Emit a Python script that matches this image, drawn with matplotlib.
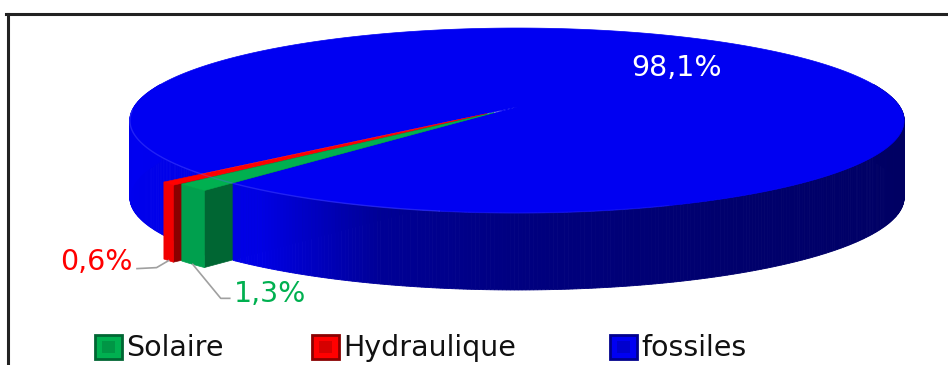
import numpy as np
import matplotlib.pyplot as plt
from matplotlib.patches import Polygon, Rectangle
from matplotlib.lines import Line2D

# energy mix shares (%)
labels = ['Solaire', 'Hydraulique', 'fossiles']
shares = [1.3, 0.6, 98.1]
pct_text = ['1,3%', '0,6%', '98,1%']

top_colors = ['#00B050', '#FF0000', '#0000F2']
wall_colors = ['#00A04E', '#F20000', None]
cut_colors = ['#006633', '#8A0000', '#00008C']
explode = [0.086, 0.106, 0.0]

# disc projection onto the page, in pixels (y grows downward)
CX, CY = 517.0, 107.0
SX, SY = 383.0, 90.5
K = 0.146
DEPTH = 77.0
START = 131.3


def proj(r, th, off=(0.0, 0.0), z=0.0):
    t = np.radians(th)
    X = r * np.cos(t) + off[0]
    Y = r * np.sin(t) + off[1]
    w = 1.0 - K * Y
    return CX + SX * X / w, CY + SY * Y / w + z


def arc(r, a, b, off, z=0.0, n=None):
    if n is None:
        n = max(int(abs(b - a) * 2), 4)
    ths = np.linspace(a, b, n)
    xs, ys = proj(r, ths, off, z)
    return np.column_stack([xs, ys])


def wall_shade(th):
    # brighter on the left-hand side of the cylinder
    t = th % 360
    if t > 270:
        t -= 360
    g = np.interp(t, [-20, 0, 60, 90, 108, 118, 126, 180, 200],
                  [95, 95, 108, 128, 150, 195, 228, 240, 240])
    return (0.0, 0.0, g / 255)


def draw_wall(ax, lo, hi, off):
    ths = np.linspace(lo, hi, int((hi - lo) * 2) + 2)
    for t0, t1 in zip(ths[:-1], ths[1:]):
        p0 = proj(1, t0, off)
        p1 = proj(1, t1, off)
        quad = [p0, p1, (p1[0], p1[1] + DEPTH), (p0[0], p0[1] + DEPTH)]
        col = wall_shade((t0 + t1) / 2)
        ax.add_patch(Polygon(quad, closed=True, fc=col, ec=col, lw=0.6))


fig = plt.figure(figsize=(9.48, 3.65), dpi=100)
ax = fig.add_axes([0, 0, 1, 1])
ax.set_xlim(0, 948)
ax.set_ylim(365, 0)
ax.axis('off')

# slice angles, clockwise from 3 o'clock on screen
bounds = START + np.concatenate([[0], np.cumsum(shares)]) * 3.6
slices = []
for i in range(len(shares)):
    a, b = bounds[i], bounds[i + 1]
    mid = np.radians((a + b) / 2)
    off = (explode[i] * np.cos(mid), explode[i] * np.sin(mid))
    slices.append((a, b, off))

ba, bb, boff = slices[2]

# back-left part of the big wall sits behind the pulled-out slices
draw_wall(ax, ba, 195.0, boff)

# cut faces of the pulled-out slices
for i in [1, 0]:
    a, b, off = slices[i]
    c0 = proj(0, a, off)
    e0 = proj(1, a, off)
    quad = [c0, e0, (e0[0], e0[1] + DEPTH), (c0[0], c0[1] + DEPTH)]
    ax.add_patch(Polygon(quad, closed=True, fc=cut_colors[i], ec=cut_colors[i], lw=0.5))

# front part of the big wall, then its top
draw_wall(ax, -15.0, bb - 360, boff)
top = np.vstack([[proj(0, ba, boff)], arc(1, ba, bb, boff, n=720)])
ax.add_patch(Polygon(top, closed=True, fc=top_colors[2], ec=top_colors[2], lw=0.5))
# faint highlight along the front rim
for t0, t1, al in [(70, 100, 0.15), (100, 178, 0.35)]:
    rim = arc(1, t0, t1, boff)
    ax.plot(rim[:, 0], rim[:, 1], color='#6060FF', lw=1.0, alpha=al)

# small slices: outer wall then top
for i in [1, 0]:
    a, b, off = slices[i]
    upper = arc(1, a, b, off)
    lower = upper[::-1] + [0, DEPTH]
    ax.add_patch(Polygon(np.vstack([upper, lower]), closed=True,
                         fc=wall_colors[i], ec=wall_colors[i], lw=0.5))
    wedge = np.vstack([[proj(0, a, off)], arc(1, a, b, off)])
    ax.add_patch(Polygon(wedge, closed=True, fc=top_colors[i], ec=top_colors[i], lw=0.4))

# value labels
lx, ly = proj(0.62, (ba + bb) / 2, boff)
ax.text(lx + 3, ly - 2, pct_text[2], color='white', fontsize=20.5, ha='center', va='center',
        family='DejaVu Sans')

lead = '#A0A0A0'
# Hydraulique
a, b, off = slices[1]
hx, hy = proj(1, (a + b) / 2, off, DEPTH)
ax.add_line(Line2D([hx, hx - 12, 137], [hy, hy + 7, hy + 8], color=lead, lw=1.2))
ax.text(133, hy + 1, pct_text[1], color='#FF0000', fontsize=20.5, ha='right', va='center',
        family='DejaVu Sans')
# Solaire
a, b, off = slices[0]
gx, gy = proj(1, (a + b) / 2, off, DEPTH)
ax.add_line(Line2D([gx, gx + 28, gx + 37], [gy, gy + 34, gy + 34], color=lead, lw=1.2))
ax.text(gx + 41, gy + 30, pct_text[0], color='#00B050', fontsize=20.5, ha='left', va='center',
        family='DejaVu Sans')

# legend row
leg_x = [95, 312, 610]
for x0, name, col, dark in zip(leg_x, labels, top_colors, cut_colors):
    ax.add_patch(Rectangle((x0, 335), 27, 24, fc=col, ec=dark, lw=2.0))
    ax.add_patch(Rectangle((x0 + 7, 341), 13, 12, fc=dark, ec='none', alpha=0.35))
    ax.text(x0 + 31, 347.5, name, color='#111111', fontsize=20.5, ha='left', va='center',
            family='DejaVu Sans')

# chart frame (top and left edges)
ax.add_line(Line2D([6, 948], [13.5, 13.5], color='#222222', lw=2.2))
ax.add_line(Line2D([8.5, 8.5], [13.5, 365], color='#222222', lw=2.2))

fig.savefig('out.png', dpi=100)
